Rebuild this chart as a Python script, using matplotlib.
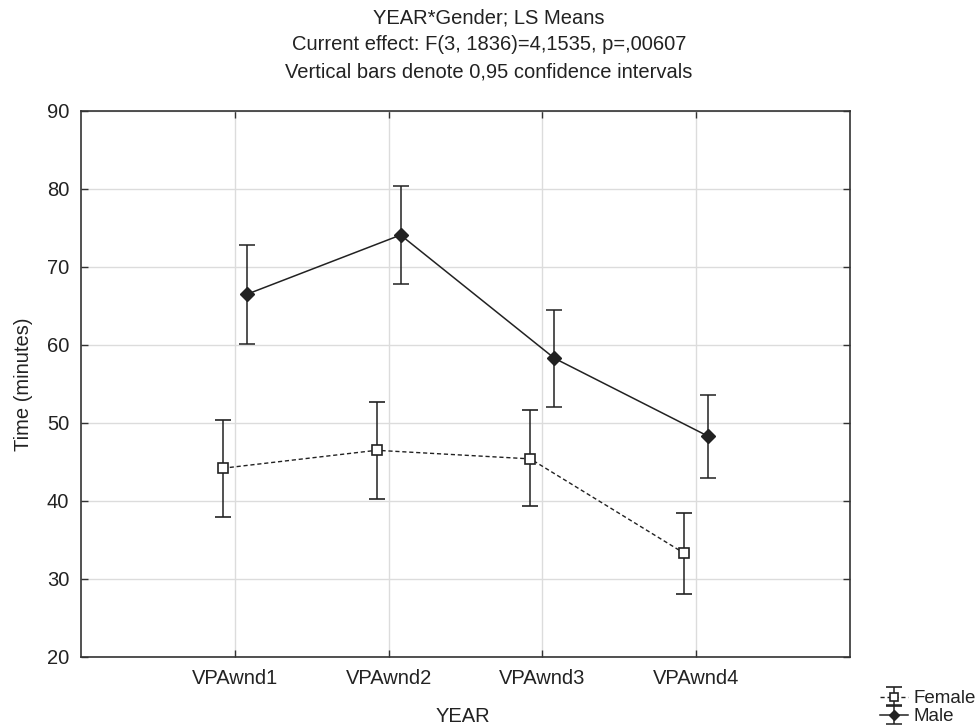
import matplotlib
matplotlib.use("Agg")
import matplotlib.pyplot as plt
import numpy as np

plt.rcParams['font.family'] = ['Liberation Sans', 'DejaVu Sans']

categories = ["VPAwnd1", "VPAwnd2", "VPAwnd3", "VPAwnd4"]
female_mean = [44.2, 46.5, 45.4, 33.3]
female_low = [37.9, 40.3, 39.3, 28.1]
female_high = [50.4, 52.7, 51.7, 38.5]
male_mean = [66.5, 74.1, 58.3, 48.3]
male_low = [60.1, 67.8, 52.1, 43.0]
male_high = [72.8, 80.4, 64.5, 53.6]
yticks = [20, 30, 40, 50, 60, 70, 80, 90]
title_lines = ["YEAR*Gender; LS Means",
               "Current effect: F(3, 1836)=4,1535, p=,00607",
               "Vertical bars denote 0,95 confidence intervals"]

fig = plt.figure(figsize=(9.78, 7.27), dpi=100)
ax = fig.add_axes([81/978, 70/727, (850-81)/978, (657-111)/727])

x = np.arange(len(categories))
off = 0.078
dark = "#222222"

fm = np.array(female_mean)
f_err = [fm - np.array(female_low), np.array(female_high) - fm]
mm = np.array(male_mean)
m_err = [mm - np.array(male_low), np.array(male_high) - mm]

ef = ax.errorbar(x - off, fm, yerr=f_err, color=dark, ecolor=dark, elinewidth=1.1,
                 capsize=6, capthick=1.1, lw=1.0, ls=(0, (3, 2)), marker='s',
                 markersize=7.5, markerfacecolor='white', markeredgecolor=dark,
                 markeredgewidth=1.2, label="Female", zorder=3)
em = ax.errorbar(x + off, mm, yerr=m_err, color=dark, ecolor=dark, elinewidth=1.1,
                 capsize=6, capthick=1.1, lw=1.1, ls='-', marker='D',
                 markersize=7, markerfacecolor=dark, markeredgecolor=dark,
                 label="Male", zorder=3)

ax.set_xlim(-1, 4)
ax.set_ylim(20, 90)
ax.set_xticks(x)
ax.set_xticklabels(categories)
ax.set_yticks(yticks)
ax.grid(True, color="#dcdcdc", lw=1.0)
ax.set_axisbelow(True)
ax.tick_params(direction='in', length=5, width=1, color="#333333",
               top=True, right=True, labelsize=14.5, pad=8.5, labelcolor="#222222")
for s in ax.spines.values():
    s.set_color("#333333")
    s.set_linewidth(1.2)

ax.set_ylabel("Time (minutes)", fontsize=14.5, color="#222222", labelpad=10)
fig.text(463/978, 1 - 717/727, "YEAR", ha='center', va='center', fontsize=14.5, color="#222222")

for i, t in enumerate(title_lines):
    fig.text(0.5, 1 - (18 + 27*i)/727, t, ha='center', va='center', fontsize=14.5, color="#222222")

leg = fig.legend(handles=[ef, em], labels=["Female", "Male"], loc='lower right',
                 bbox_to_anchor=(1.0, 0.0), frameon=False, fontsize=13.5,
                 handlelength=1.5, handletextpad=0.3, labelspacing=0.05,
                 borderaxespad=0.05, borderpad=0.05, markerscale=0.8)
for t in leg.get_texts():
    t.set_color("#222222")

fig.savefig("out.png", dpi=100)
